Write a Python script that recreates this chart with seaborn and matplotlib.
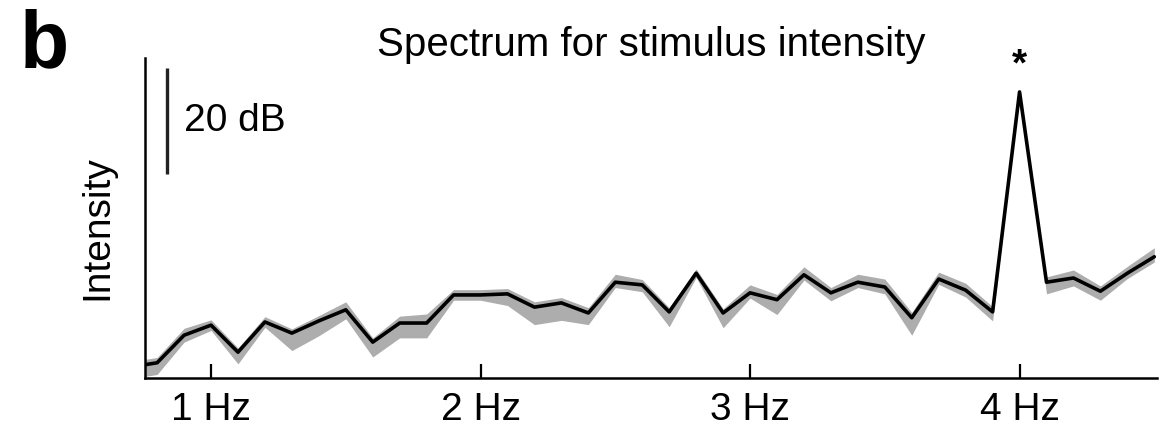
import matplotlib
matplotlib.use("Agg")
import matplotlib.pyplot as plt
import seaborn as sns
import numpy as np
import pandas as pd

# ---- data ----
freq_hz = [0.7, 0.8, 0.9, 1.0, 1.1, 1.2, 1.3, 1.4, 1.5, 1.6,
           1.7, 1.8, 1.9, 2.0, 2.1, 2.2, 2.3, 2.4, 2.5, 2.6,
           2.7, 2.8, 2.9, 3.0, 3.1, 3.2, 3.3, 3.4, 3.5, 3.6,
           3.7, 3.8, 3.9, 4.0, 4.1, 4.2, 4.3, 4.4, 4.5]
intensity_db = [1.5, 2.3, 7.5, 9.4, 4.3, 10.0, 7.9, 10.2, 12.3, 6.2,
                9.8, 9.8, 15.1, 15.1, 15.3, 12.8, 13.6, 11.7, 17.5, 17.0,
                11.9, 19.2, 11.7, 15.5, 14.2, 18.9, 15.5, 17.5, 16.6, 10.8,
                18.1, 16.0, 11.9, 53.4, 17.5, 18.3, 15.8, 19.2, 22.3]
err_upper_db = [1.0, 1.0, 1.3, 1.0, 0.8, 1.0, 0.8, 1.0, 1.5, 0.8,
                1.3, 1.7, 1.0, 1.0, 1.0, 1.0, 1.0, 1.0, 1.5, 1.0,
                0.8, 0.8, 0.8, 1.5, 1.0, 1.5, 1.0, 1.5, 1.5, 1.0,
                1.3, 1.3, 1.0, 0.0, 1.0, 1.5, 1.0, 1.3, 1.7]
err_lower_db = [2.2, 2.2, 1.3, 1.0, 2.2, 1.0, 3.3, 2.8, 1.7, 2.8,
                2.8, 2.8, 1.0, 1.0, 2.2, 3.3, 3.3, 2.2, 1.0, 1.3,
                2.8, 0.8, 2.8, 1.0, 2.8, 1.0, 1.5, 1.0, 1.3, 3.3,
                1.0, 1.3, 1.7, 0.0, 2.2, 1.5, 1.7, 1.0, 1.0]
tick_freqs = [1, 2, 3, 4]
tick_labels = ["1 Hz", "2 Hz", "3 Hz", "4 Hz"]
peak_freq = 4.0
scale_bar_db = 20

df = pd.DataFrame({"freq": freq_hz, "db": intensity_db})
lower = np.array(intensity_db) - np.array(err_lower_db)
upper = np.array(intensity_db) + np.array(err_upper_db)

sns.set_theme(style="ticks")
plt.rcParams["font.family"] = ["Liberation Sans", "DejaVu Sans"]
plt.rcParams["text.color"] = "black"
plt.rcParams["axes.labelcolor"] = "black"

fig = plt.figure(figsize=(11.75, 4.37), dpi=100)
ax = fig.add_axes([145 / 1175, 1 - 378 / 437, (1157 - 145) / 1175, (378 - 58) / 437])

ax.fill_between(freq_hz, lower, upper, color="#adadad", linewidth=0, zorder=1)
sns.lineplot(data=df, x="freq", y="db", ax=ax, color="black", linewidth=2.6,
             zorder=2, legend=False)

ax.set_xlim(0.755, 4.51)
ax.set_ylim(-0.57, 59.8)

ax.set_xticks(tick_freqs)
ax.set_xticklabels(tick_labels)
ax.set_yticks([])
ax.set_xlabel("")
ax.set_ylabel("")
ax.tick_params(axis="x", direction="in", length=10, width=1.6, pad=10,
               labelsize=28, colors="black")
for s in ["top", "right"]:
    ax.spines[s].set_visible(False)
for s in ["left", "bottom"]:
    ax.spines[s].set_linewidth(1.8)
    ax.spines[s].set_color("black")

# ylabel
ax.text(-0.047, 0.47, "Intensity", rotation=90, transform=ax.transAxes,
        ha="center", va="center", fontsize=28, color="black")

# scale bar
bar_x = 0.835
bar_top = 58.0
ax.plot([bar_x, bar_x], [bar_top - scale_bar_db, bar_top], color="#222222",
        linewidth=2.4, solid_capstyle="butt", clip_on=False)
ax.text(bar_x + 0.065, bar_top - scale_bar_db / 2, f"{scale_bar_db} dB",
        ha="left", va="center", fontsize=28, color="black")

# asterisk above the peak
peak_val = intensity_db[freq_hz.index(peak_freq)]
ax.text(peak_freq, peak_val + 1.5, "*", ha="center", va="bottom",
        fontsize=28, fontweight="bold", color="black")

# title and panel letter
fig.text(651 / 1175, 1 - 45 / 437, "Spectrum for stimulus intensity",
         ha="center", va="center", fontsize=29, color="black")
fig.text(20 / 1175, 1 - 8 / 437, "b", ha="left", va="top",
         fontsize=58, fontweight="bold", color="black")

fig.savefig("out.png", dpi=100)
